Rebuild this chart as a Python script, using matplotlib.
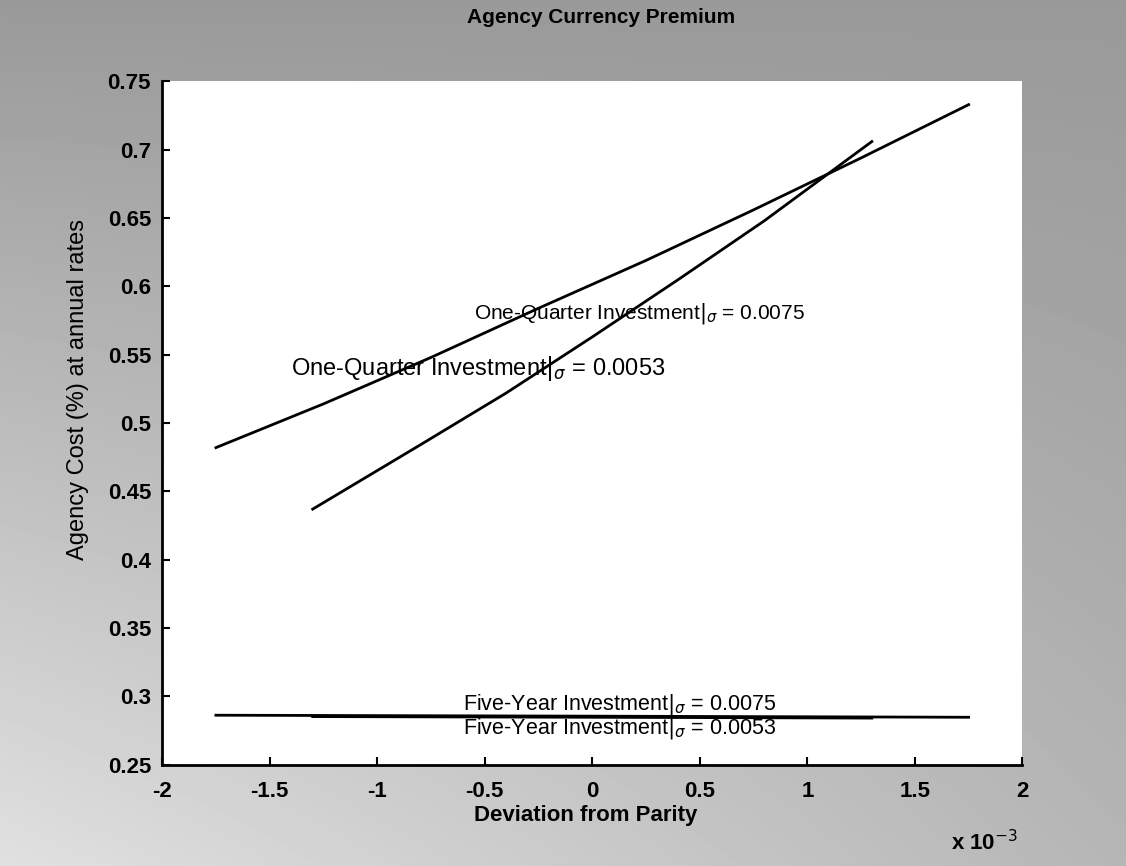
import numpy as np
import matplotlib
matplotlib.use('Agg')
import matplotlib.pyplot as plt

plt.rcParams['font.family'] = ['Liberation Sans', 'DejaVu Sans']

# Deviation from parity (x 10^-3) and agency cost (%)
x_q75 = [-1.75, -1.25, -0.75, -0.25, 0.25, 0.75, 1.25, 1.75]
y_q75 = [0.482, 0.514, 0.548, 0.584, 0.619, 0.656, 0.694, 0.733]

x_q53 = [-1.3, -0.8, -0.4, 0.0, 0.4, 0.8, 1.3]
y_q53 = [0.437, 0.484, 0.522, 0.563, 0.605, 0.648, 0.706]

x_y75 = [-1.75, 0.0, 1.75]
y_y75 = [0.2862, 0.2855, 0.2847]

x_y53 = [-1.3, 0.0, 1.3]
y_y53 = [0.2852, 0.2847, 0.2841]

xticks = [-2, -1.5, -1, -0.5, 0, 0.5, 1, 1.5, 2]
xticklabels = ['-2', '-1.5', '-1', '-0.5', '0', '0.5', '1', '1.5', '2']
yticks = [0.25, 0.3, 0.35, 0.4, 0.45, 0.5, 0.55, 0.6, 0.65, 0.7, 0.75]
yticklabels = ['0.25', '0.3', '0.35', '0.4', '0.45', '0.5', '0.55', '0.6', '0.65', '0.7', '0.75']

fig = plt.figure(figsize=(11.26, 8.66), dpi=100)

# scanned-paper grey behind the plot: darker at the top and right
h, w = 866, 1126
yy, xx = np.mgrid[0:h, 0:w]
shade = 0.60 + 0.28 * (yy / h) * (1 - 0.6 * xx / w)
fig.figimage(shade, xo=0, yo=0, cmap='gray', vmin=0, vmax=1, origin='upper', zorder=-10)

ax = fig.add_axes([0.144, 0.117, 0.764, 0.789])
ax.set_facecolor('white')

for xs, ys in [(x_q75, y_q75), (x_q53, y_q53), (x_y75, y_y75), (x_y53, y_y53)]:
    ax.plot(xs, ys, color='black', linewidth=2)

ax.set_xlim(-2, 2)
ax.set_ylim(0.25, 0.75)
ax.set_xticks(xticks)
ax.set_xticklabels(xticklabels)
ax.set_yticks(yticks)
ax.set_yticklabels(yticklabels)
ax.tick_params(direction='in', length=6, width=1.5, labelsize=16)
ax.tick_params(axis='x', pad=12)
ax.tick_params(axis='y', pad=8)
for lab in ax.get_xticklabels() + ax.get_yticklabels():
    lab.set_fontweight('bold')

ax.spines['top'].set_visible(False)
ax.spines['right'].set_visible(False)
ax.spines['left'].set_linewidth(2)
ax.spines['bottom'].set_linewidth(2)

# curve labels
ax.text(-0.55, 0.580, r'One-Quarter Investment$|_{\sigma}$ = 0.0075', fontsize=15, va='center')
ax.text(-1.40, 0.540, r'One-Quarter Investment$|_{\sigma}$ = 0.0053', fontsize=17, va='center')
ax.text(-0.60, 0.2905, r'Five-Year Investment$|_{\sigma}$ = 0.0075', fontsize=15.5, va='baseline')
ax.text(-0.60, 0.2730, r'Five-Year Investment$|_{\sigma}$ = 0.0053', fontsize=15.5, va='baseline')

fig.text(0.534, 0.980, 'Agency Currency Premium', fontsize=15, fontweight='bold',
         ha='center', va='center')
fig.text(0.52, 0.058, 'Deviation from Parity', fontsize=16, fontweight='bold',
         ha='center', va='center')
fig.text(0.069, 0.550, 'Agency Cost (%) at annual rates', fontsize=17,
         rotation=90, ha='center', va='center')
fig.text(0.874, 0.027, r'x 10$^{-3}$', fontsize=16, fontweight='bold',
         ha='center', va='center')

fig.savefig('out.png', dpi=100)
